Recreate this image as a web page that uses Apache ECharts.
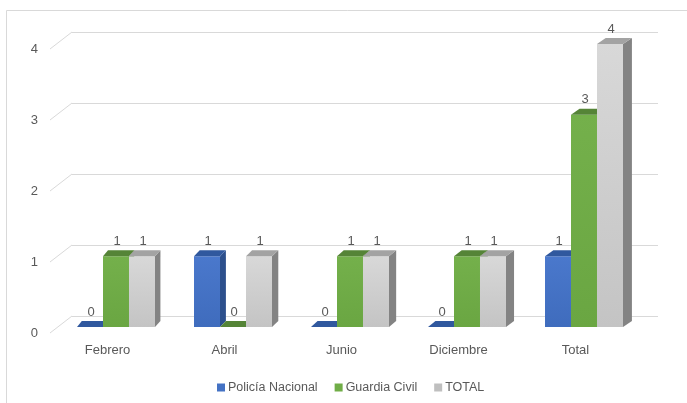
<!DOCTYPE html>
<html>
<head>
<meta charset="utf-8">
<script src="https://cdn.jsdelivr.net/npm/echarts@6/dist/echarts.min.js"></script>
<style>
html,body{margin:0;padding:0;background:#fff;}
#chart{width:687px;height:403px;}
</style>
</head>
<body>
<div id="chart"></div>
<script>
// ---- data ----
const categories = ['Febrero', 'Abril', 'Junio', 'Diciembre', 'Total'];
const seriesNames = ['Policía Nacional', 'Guardia Civil', 'TOTAL'];
const policiaNacional = [0, 1, 0, 0, 1];
const guardiaCivil = [1, 0, 1, 1, 3];
const totalValues = [1, 1, 1, 1, 4];
const yTicks = [0, 1, 2, 3, 4];

// ---- styles ----
const FONT = '"Liberation Sans", Arial, sans-serif';
const TXT = '#595959';
const palette = [
  { front: ['#4a78cc', '#3f6cbd'], top: '#30589e', side: '#2c4f8c', legend: '#4472c4' },
  { front: ['#74b04b', '#6aa642'], top: '#558437', side: '#4c772f', legend: '#70ad47' },
  { front: ['#d8d8d8', '#c4c4c4'], top: '#a3a3a3', side: '#838383', legend: '#bfbfbf' }
];

function persp(x) { return 5 + (x - 100) * 0.0075; }

function makeRender(si) {
  const c = palette[si];
  return function (params, api) {
    const idx = api.value(0);
    const val = api.value(1);
    const base = api.coord([idx, 0]);
    const topP = api.coord([idx, val]);
    const band = api.size([1, 0])[0];
    const bw = band * 0.2222;
    const x0 = base[0] - 1.5 * bw + si * bw;
    const x1 = x0 + bw;
    const yb = base[1], yt = topP[1];
    const dy = -6;
    const dxL = persp(x0), dxR = persp(x1);
    const children = [];
    if (yb - yt > 0.5) {
      children.push({
        type: 'polygon',
        shape: { points: [[x1, yt], [x1 + dxR, yt + dy], [x1 + dxR, yb + dy], [x1, yb]] },
        style: { fill: c.side }
      });
      children.push({
        type: 'rect',
        shape: { x: x0, y: yt, width: bw, height: yb - yt },
        style: {
          fill: new echarts.graphic.LinearGradient(0, 0, 0, 1, [
            { offset: 0, color: c.front[0] }, { offset: 1, color: c.front[1] }
          ])
        }
      });
    }
    children.push({
      type: 'polygon',
      shape: { points: [[x0, yt], [x1, yt], [x1 + dxR, yt + dy], [x0 + dxL, yt + dy]] },
      style: { fill: c.top }
    });
    children.push({
      type: 'text',
      style: {
        x: x0 + bw / 2 + 1, y: yt - 15, text: String(val),
        fill: TXT, font: '13px ' + FONT, align: 'center', verticalAlign: 'middle'
      },
      z2: 10
    });
    return { type: 'group', children: children };
  };
}

const dataSets = [policiaNacional, guardiaCivil, totalValues];

const chart = echarts.init(document.getElementById('chart'), null, { renderer: 'canvas' });

const barSeries = dataSets.map(function (arr, si) {
  return {
    name: seriesNames[si],
    type: 'custom',
    xAxisIndex: 0, yAxisIndex: 0,
    itemStyle: { color: palette[si].legend },
    renderItem: makeRender(si),
    data: arr.map(function (v, i) { return [i, v]; }),
    z: 5
  };
});

const option = {
  animation: false,
  backgroundColor: '#fff',
  textStyle: { fontFamily: FONT },
  graphic: [{
    type: 'rect',
    shape: { x: 6.5, y: 10.5, width: 720, height: 420 },
    style: { fill: 'none', stroke: '#d9d9d9', lineWidth: 1 },
    silent: true, z: -10
  }],
  legend: {
    data: seriesNames,
    left: 212, top: 376,
    icon: 'rect', itemWidth: 8, itemHeight: 8, itemGap: 17,
    textStyle: { color: TXT, fontSize: 12.5, fontFamily: FONT, padding: [0, 0, 0, -2] }
  },
  grid: [
    // bar plane
    { left: 57.5, right: 44.5, top: 44, bottom: 76 },
    // back wall
    { left: 72, right: 29, top: 32, bottom: 87 },
    // front floor edge (labels)
    { left: 49, right: 53, top: 49, bottom: 70 }
  ],
  xAxis: [
    { type: 'category', gridIndex: 0, data: categories, show: false },
    { type: 'value', gridIndex: 1, min: 0, max: 1, show: false },
    {
      type: 'category', gridIndex: 2, data: categories,
      axisLine: { show: false }, axisTick: { show: false },
      axisLabel: { color: TXT, fontSize: 13, fontFamily: FONT, margin: 11 }
    }
  ],
  yAxis: [
    { type: 'value', gridIndex: 0, min: 0, max: 4, interval: 1, show: false },
    {
      type: 'value', gridIndex: 1, min: 0, max: 4, interval: 1,
      axisLine: { show: false }, axisTick: { show: false }, axisLabel: { show: false },
      splitLine: { show: true, lineStyle: { color: '#d9d9d9', width: 1 } }
    },
    {
      type: 'value', gridIndex: 2, min: 0, max: 4, interval: 1,
      axisLine: { show: false }, axisTick: { show: false },
      splitLine: { show: false },
      axisLabel: {
        color: TXT, fontSize: 13, fontFamily: FONT, margin: 11,
        formatter: function (v) { return yTicks.indexOf(v) >= 0 ? String(v) : ''; }
      }
    }
  ],
  series: [{
    type: 'custom',
    xAxisIndex: 1, yAxisIndex: 1,
    silent: true,
    renderItem: function (params, api) {
      const p = api.coord([0, api.value(0)]);
      return {
        type: 'line',
        shape: { x1: p[0] - 22, y1: p[1] + 17, x2: p[0], y2: p[1] },
        style: { stroke: '#d9d9d9', lineWidth: 1 }
      };
    },
    data: yTicks.map(function (v) { return [v]; }),
    z: 1
  }].concat(barSeries)
};

chart.setOption(option);
</script>
</body>
</html>
